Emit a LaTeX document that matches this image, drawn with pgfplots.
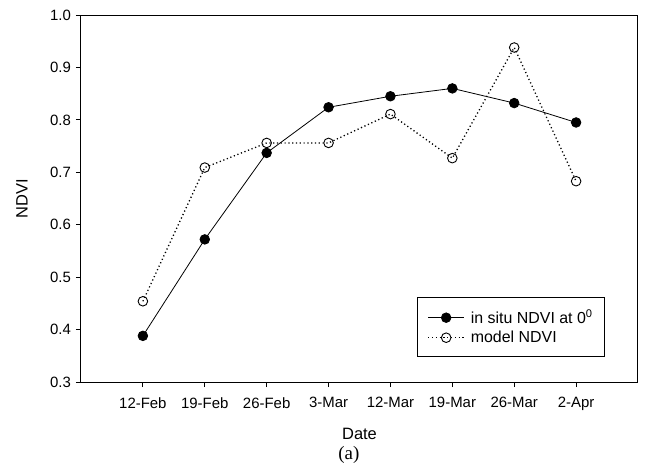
\documentclass[border=0pt]{standalone}
\usepackage{fontspec}
\setmainfont{Liberation Sans}
\newfontfamily\serifa{Liberation Serif}
\usepackage{pgfplots}
\pgfplotsset{compat=1.18}
\pgfplotsset{mylegend/.style={legend image code/.code={
    \draw[mark repeat=2,mark phase=2,##1] plot coordinates {(0bp,0bp) (18bp,0bp) (36bp,0bp)};}}}
\begin{document}
\fontsize{15}{18}\selectfont
\begin{tikzpicture}
\useasboundingbox (-81bp,-92bp) rectangle (564bp,382bp);
\begin{axis}[
  at={(0,0)}, anchor=south west,
  scale only axis, width=557bp, height=367bp,
  xmin=-1, xmax=8, ymin=0.3, ymax=1.0,
  xtick={0,...,7},
  xticklabels={12-Feb,19-Feb,26-Feb,3-Mar,12-Mar,19-Mar,26-Mar,2-Apr},
  ytick={0.3,0.4,...,1.0},
  yticklabel style={/pgf/number format/fixed,/pgf/number format/fixed zerofill,/pgf/number format/precision=1},
  /pgf/number format/assume math mode=true,
  tick align=outside, xtick pos=bottom, ytick pos=left,
  major tick length=5bp,
  axis line style={line width=1bp},
  every tick/.style={line width=0.9bp, black},
  tick label style={font=\fontsize{15}{18}\selectfont},
  xticklabel style={yshift=-5bp},
  xlabel={Date}, ylabel={NDVI},
  label style={font=\fontsize{16.5}{19}\selectfont},
  xlabel style={at={(axis description cs:0.5,-0.1417)}, anchor=center},
  ylabel style={at={(axis description cs:-0.106,0.5)}, anchor=center},
  legend style={at={(0.941,0.068)}, anchor=south east, draw=black, line width=0.9bp,
    font=\fontsize{16}{18}\selectfont, inner xsep=10bp, inner ysep=10bp, row sep=1bp,
    /tikz/every odd column/.append style={column sep=4bp},
    legend cell align=left},
  clip=false,
]
\addplot[black, line width=0.8bp, mark=*, mark size=4.8bp, mark options={fill=black, solid}, mylegend]
 coordinates {(0,0.388) (1,0.572) (2,0.737) (3,0.824) (4,0.845) (5,0.860) (6,0.832) (7,0.795)};
\addlegendentry{in situ NDVI at 0\textsuperscript{0}\hspace{6bp}}
\addplot[black, line width=1.3bp, dash pattern=on 1.2bp off 2.6bp, mark=o, mark size=4.8bp, mark options={fill=white, solid, line width=0.9bp}, mylegend]
 coordinates {(0,0.454) (1,0.709) (2,0.756) (3,0.756) (4,0.811) (5,0.727) (6,0.938) (7,0.683)};
\addlegendentry{model NDVI}
\node[font=\serifa\fontsize{19}{22}\selectfont] at (axis description cs:0.481,-0.199) {(a)};
\end{axis}
\end{tikzpicture}
\end{document}
